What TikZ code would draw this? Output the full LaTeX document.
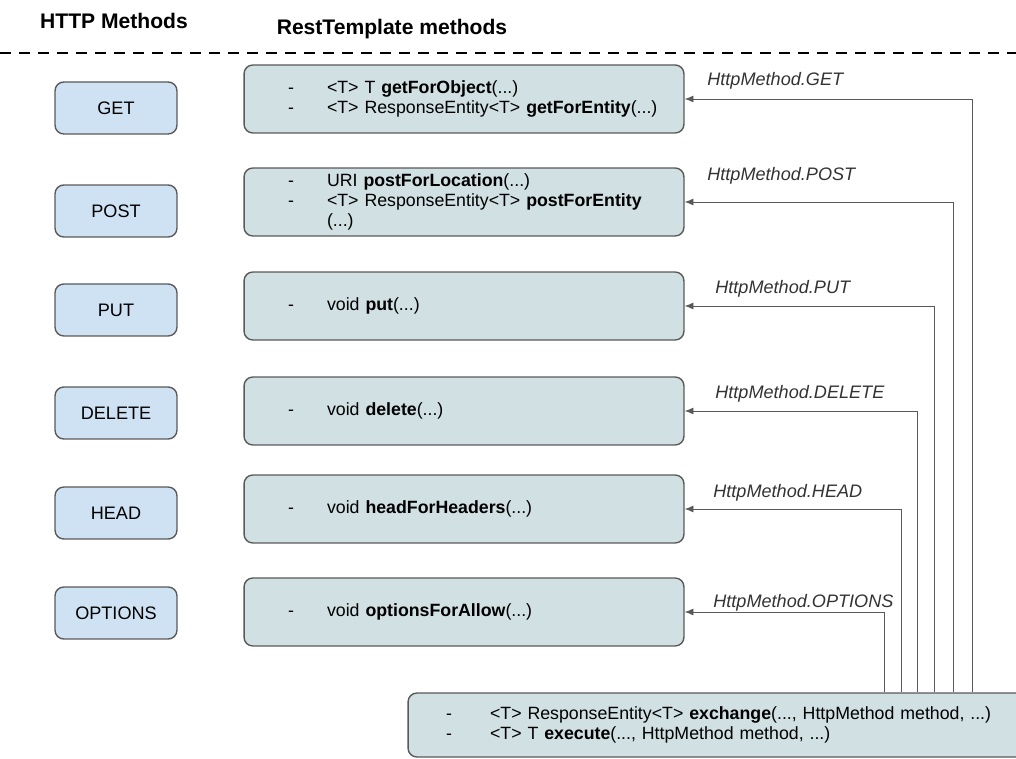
\documentclass[tikz,border=0pt]{standalone}
\usepackage{fontspec}
\setmainfont{Liberation Sans}
\usetikzlibrary{arrows.meta, positioning}
\definecolor{hblue}{HTML}{CFE2F3}
\definecolor{rcyan}{HTML}{D0E0E3}
\definecolor{hline}{HTML}{595959}
% one list line: dash, gap, text (may run past the text width)
\newcommand{\itm}[2][0.78cm]{\makebox[\linewidth][l]{\makebox[#1][l]{-}#2}}

\begin{document}
\begin{tikzpicture}[x=0.02cm, y=-0.02cm,
  mbox/.style={rectangle, rounded corners=5pt, draw=hline, line width=0.8pt, fill=hblue,
               minimum width=2.44cm, minimum height=1.04cm, font=\fontsize{10.3}{12}\selectfont},
  rbox/.style={rectangle, rounded corners=5pt, draw=hline, line width=0.8pt, fill=rcyan,
               minimum width=8.8cm, minimum height=1.36cm, inner xsep=0.88cm, inner ysep=1pt,
               text width=7.04cm, align=left, font=\fontsize{10.1}{11.5}\selectfont},
  arr/.style={-{Latex[length=5pt, width=4pt]}, line width=0.5pt, draw=hline},
  lbl/.style={anchor=west, font=\fontsize{10.3}{12}\selectfont\itshape, text=black!80, inner sep=0pt},
  hdr/.style={font=\fontsize{12}{14}\selectfont\bfseries}
]
\useasboundingbox (0,0) rectangle (1016,759);
\clip (0,0) rectangle (1016,759);

% Headers
\node[hdr] (hhttp) at (114,21) {HTTP Methods};
\node[hdr] (hrest) at (392,29) {RestTemplate methods};
\draw[line width=1.1pt, dash pattern=on 0.22cm off 0.16cm] (0,53) -- (1016,53);

% HTTP methods
\node[mbox] (get)     at (116,108) {GET};
\node[mbox] (post)    at (116,211) {POST};
\node[mbox] (put)     at (116,310) {PUT};
\node[mbox] (delete)  at (116,413) {DELETE};
\node[mbox] (head)    at (116,513) {HEAD};
\node[mbox] (options) at (116,613) {OPTIONS};

% RestTemplate methods
\node[rbox] (getr)     at (464,99)  {\itm{<T> T \textbf{getForObject}(...)}\\
                                     \itm{<T> ResponseEntity<T> \textbf{getForEntity}(...)}};
\node[rbox] (postr)    at (464,202) {\itm{URI \textbf{postForLocation}(...)}\\
                                     \itm{<T> ResponseEntity<T> \textbf{postForEntity}}\\
                                     \hspace*{0.78cm}(...)};
\node[rbox] (putr)     at (464,306) {\itm{void \textbf{put}(...)}};
\node[rbox] (deleter)  at (464,411) {\itm{void \textbf{delete}(...)}};
\node[rbox] (headr)    at (464,509) {\itm{void \textbf{headForHeaders}(...)}};
\node[rbox] (optionsr) at (464,612) {\itm{void \textbf{optionsForAllow}(...)}};

% exchange / execute
\node[rbox, minimum width=12.44cm, minimum height=1.28cm, inner xsep=0.76cm, text width=10.92cm]
     (exch) at (719,725) {\itm[0.88cm]{<T> ResponseEntity<T> \textbf{exchange}(..., HttpMethod method, ...)}\\
                          \itm[0.88cm]{<T> T \textbf{execute}(..., HttpMethod method, ...)}};

% Risers
\coordinate (vget)     at (972,0);
\coordinate (vpost)    at (953,0);
\coordinate (vput)     at (934,0);
\coordinate (vdelete)  at (917,0);
\coordinate (vhead)    at (901,0);
\coordinate (voptions) at (884,0);

\draw[arr] (exch.north -| vget)     |- (getr.east);
\draw[arr] (exch.north -| vpost)    |- (postr.east);
\draw[arr] (exch.north -| vput)     |- (putr.east);
\draw[arr] (exch.north -| vdelete)  |- (deleter.east);
\draw[arr] (exch.north -| vhead)    |- (headr.east);
\draw[arr] (exch.north -| voptions) |- (optionsr.east);

% Labels
\node[lbl] (lget)     at (707,81)  {HttpMethod.GET};
\node[lbl] (lpost)    at (707,176) {HttpMethod.POST};
\node[lbl] (lput)     at (715,289) {HttpMethod.PUT};
\node[lbl] (ldelete)  at (715,394) {HttpMethod.DELETE};
\node[lbl] (lhead)    at (713,493) {HttpMethod.HEAD};
\node[lbl] (loptions) at (713,603) {HttpMethod.OPTIONS};
\end{tikzpicture}
\end{document}
